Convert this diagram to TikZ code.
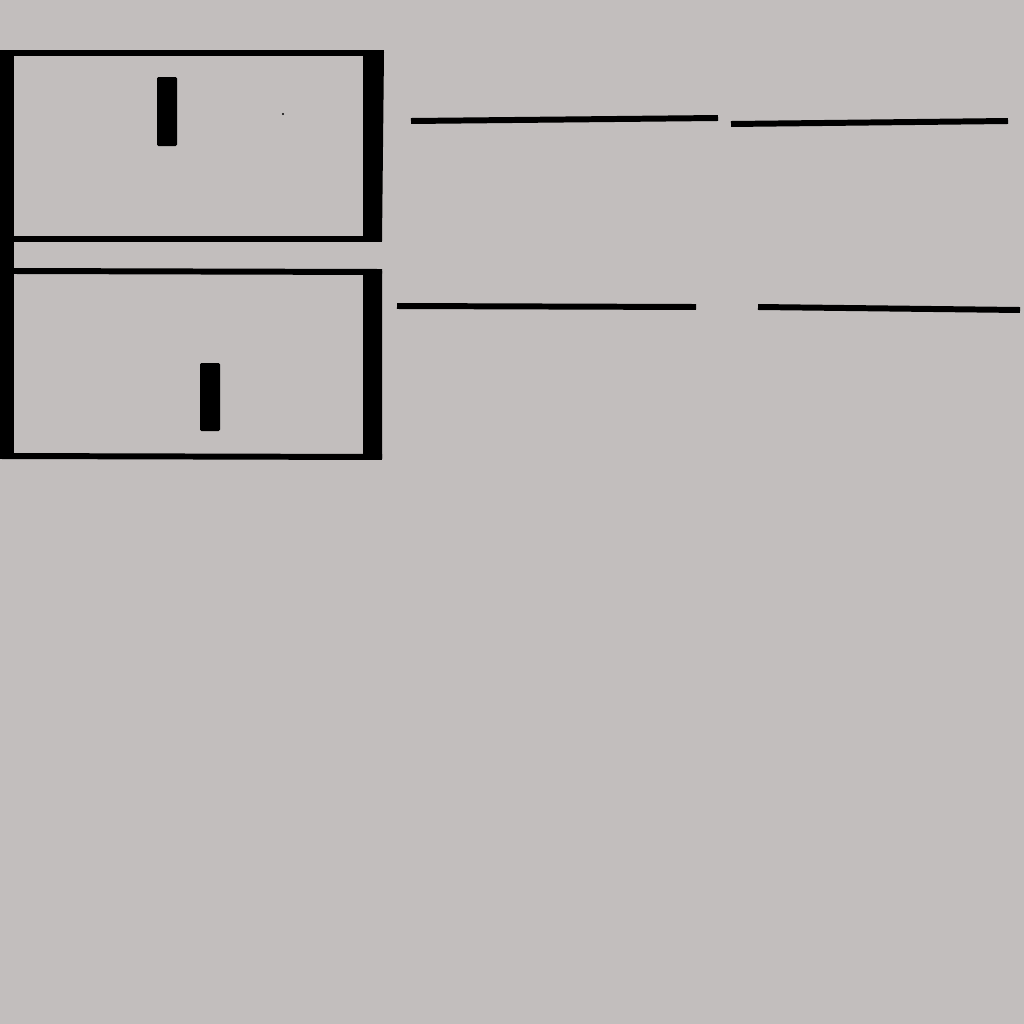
\documentclass[tikz,border=0pt]{standalone}
\usepackage{tikz}
\definecolor{paper}{RGB}{194,190,189}
\begin{document}
\begin{tikzpicture}[x = 0.01cm, y = -0.01cm, edge/.style = {line width = 1.7pt}, bar/.style = {fill = black}, knob/.style = {fill = black, rounded corners = 0.4pt}]
            \fill[paper] (0,0) rectangle (1024,1024);
            \useasboundingbox (0,0) rectangle (1024,1024);
            % cabinet sides
            \fill[bar] (0,51) rectangle (14,458);
            \fill[bar] (363,51) -- (384,52) -- (382,241) -- (363,240) -- cycle;
            \fill[bar] (363,270) -- (382,271) -- (382,459) -- (363,458) -- cycle;
            % drawer edges
            \draw[edge] (0,53) -- (384,53);
            \draw[edge] (14,239) -- (382,239);
            \draw[edge] (14,271) -- (382,272);
            \draw[edge] (0,456) -- (382,457);
            % handles
            \fill[knob] (157,77) rectangle (177,146);
            \fill[knob] (200,363) rectangle (220,431);
            \fill (283,114) circle (0.3pt);
            % lines
            \draw[edge] (411,121) -- (718,118);
            \draw[edge] (731,124) -- (1008,121);
            \draw[edge] (397,306) -- (696,307);
            \draw[edge] (758,307) -- (1020,310);
         \end{tikzpicture}
\end{document}
